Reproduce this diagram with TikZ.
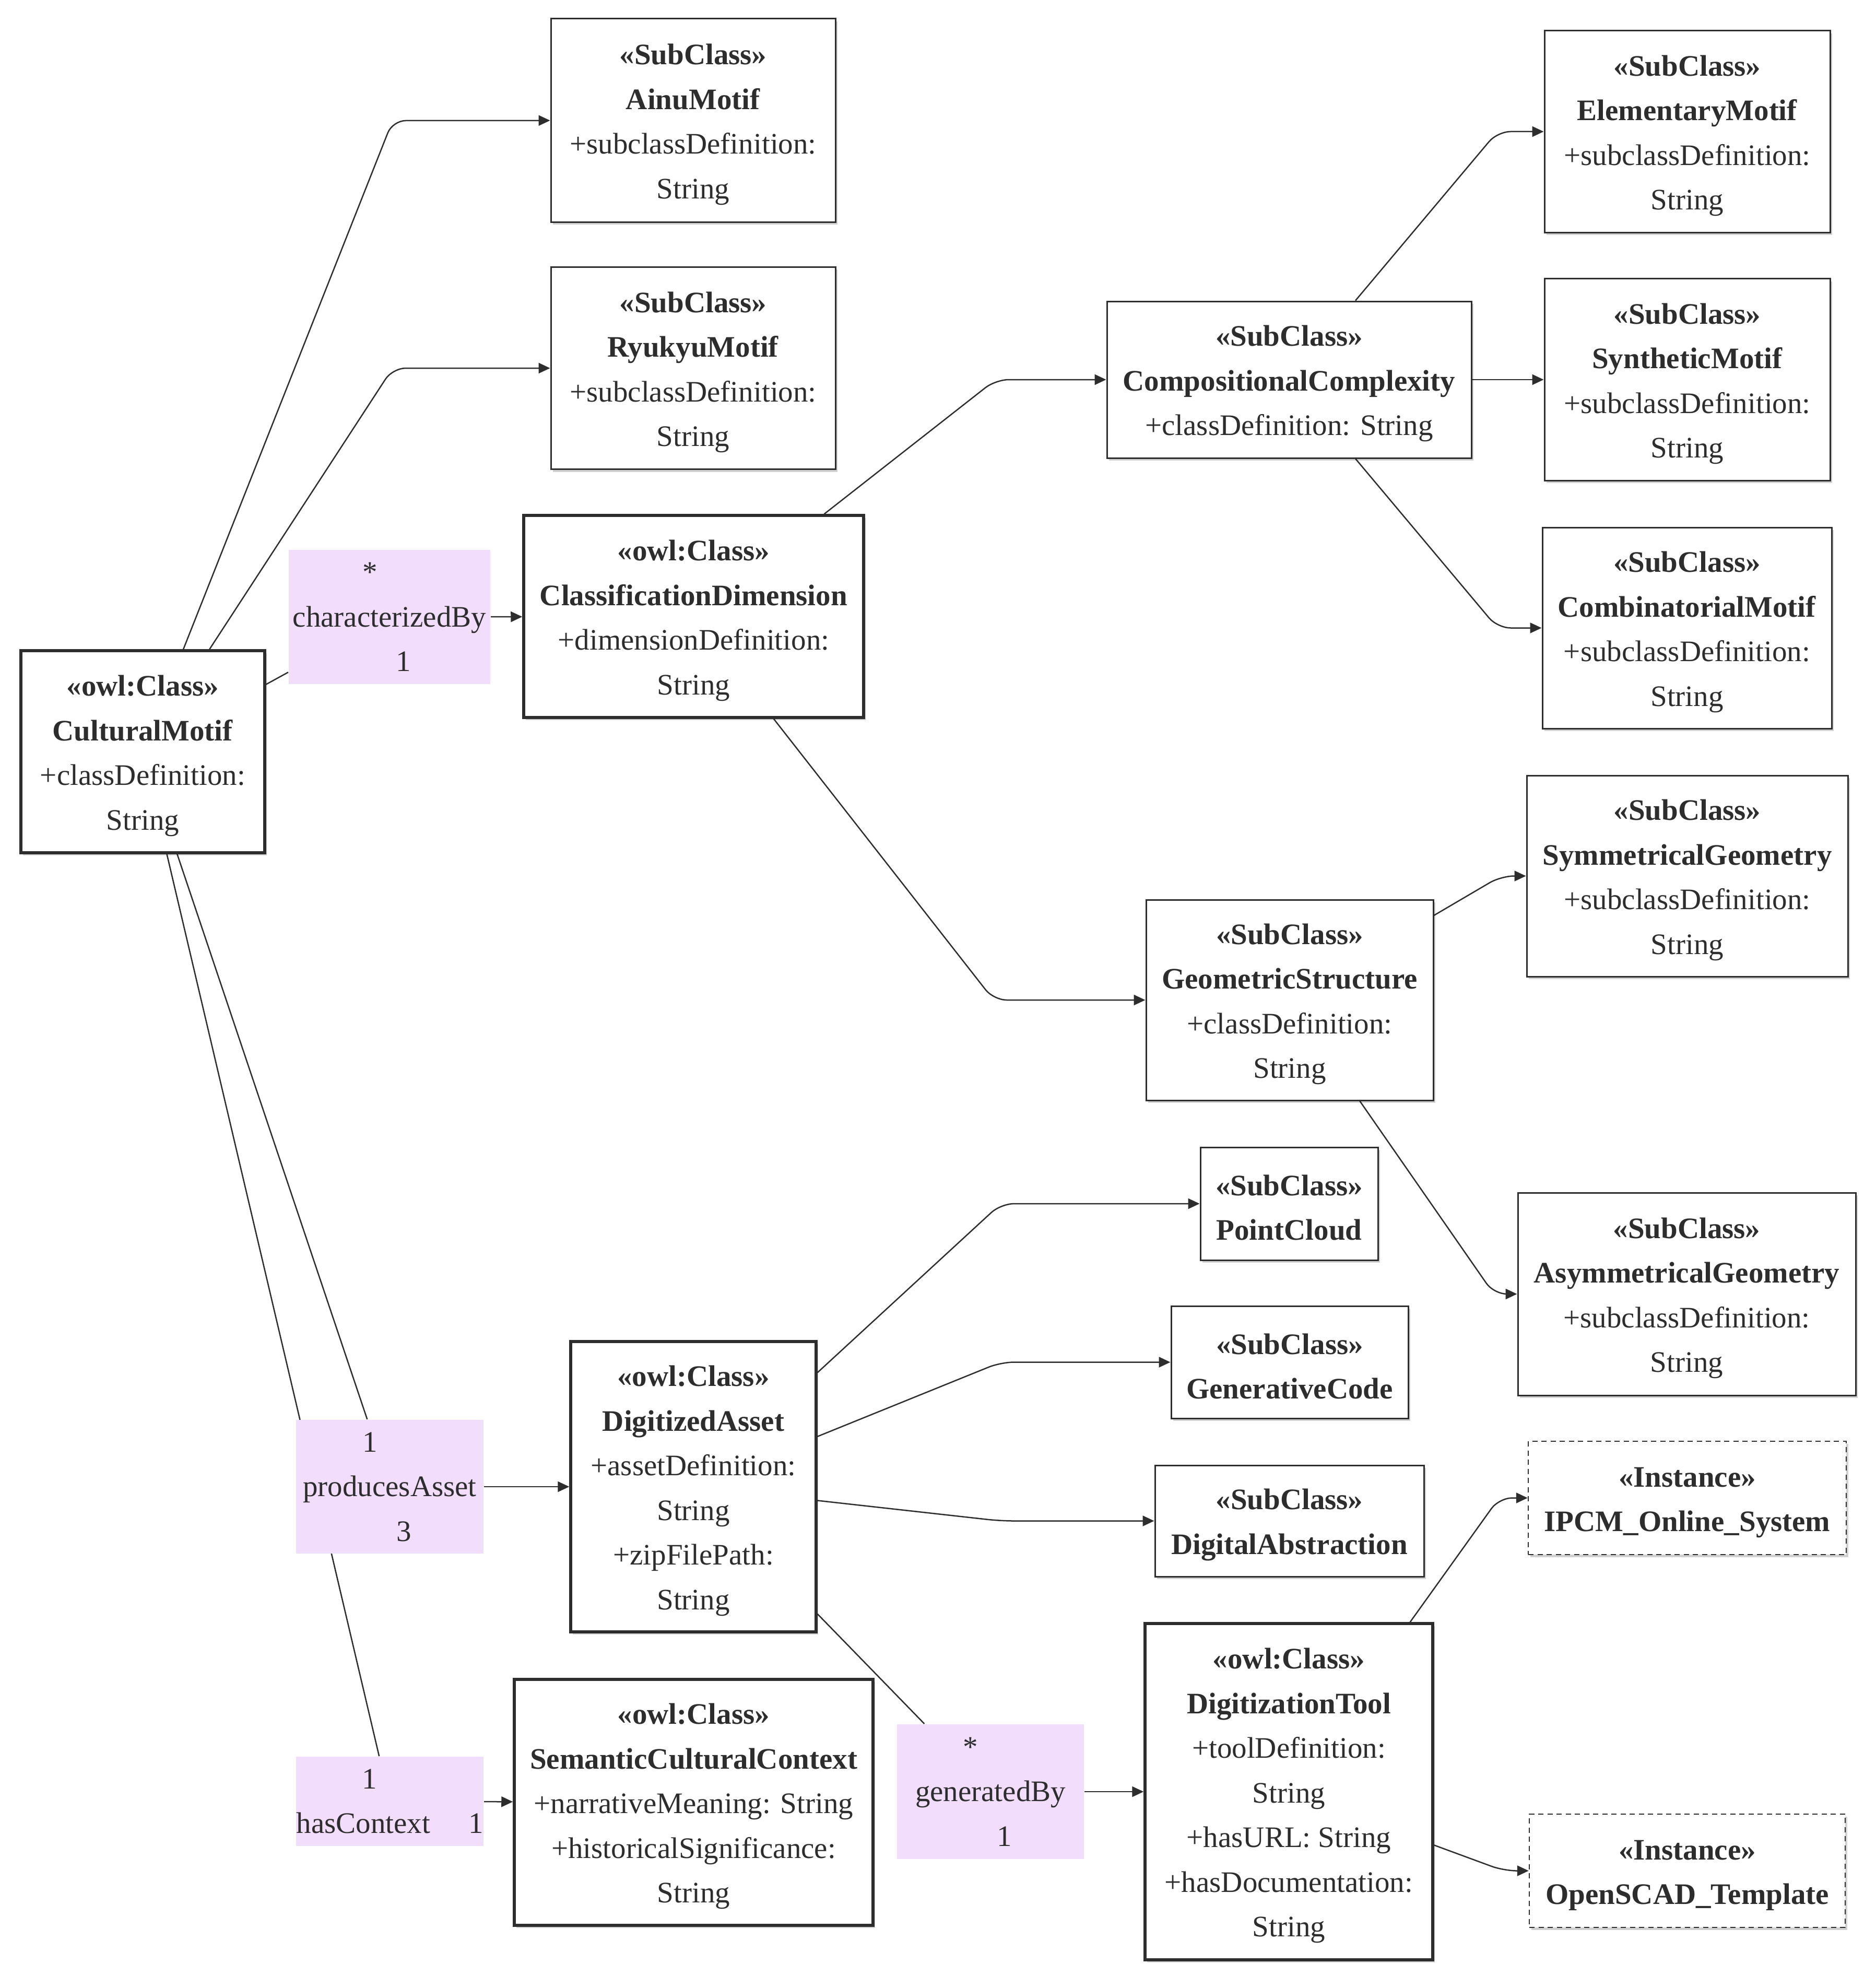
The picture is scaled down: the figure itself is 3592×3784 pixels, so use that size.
\documentclass[tikz,border=0pt]{standalone}
\usepackage{fontspec}
\setmainfont{Liberation Serif}
\usetikzlibrary{arrows.meta,shadows,backgrounds}
\definecolor{lblpink}{RGB}{242,222,252}
\definecolor{ink}{RGB}{45,45,45}
\newcommand\tstr{\rule{0pt}{11pt}}
\begin{document}
\begin{tikzpicture}[x=0.2pt,y=-0.2pt,
  base/.style={font=\fontsize{11.4}{17.1}\selectfont, text=ink, align=center, inner sep=0pt},
  subbox/.style={base, draw=ink, line width=0.6pt, fill=white,
    drop shadow={shadow xshift=0.8pt, shadow yshift=-1pt, opacity=0.18, fill=black}},
  clsbox/.style={subbox, line width=1.1pt},
  instbox/.style={subbox, dash pattern=on 2pt off 1.5pt, line width=0.5pt},
  lbl/.style={base, fill=lblpink},
  edge/.style={draw=ink, line width=0.5pt, rounded corners=5pt},
  arr/.style={edge, -{Triangle[length=4.4pt,width=4pt]}}
]
\useasboundingbox (0,0) rectangle (3592,3784);

% ---------- class boxes ----------
\node[subbox, minimum width=109pt, minimum height=77.8pt] (Ainu) at (1327.5,230.5)
  {\tstr\textbf{«SubClass»}\\\textbf{AinuMotif}\\+subclassDefinition:\\String};
\node[subbox, minimum width=109pt, minimum height=77.4pt] (Ryukyu) at (1327.5,705)
  {\tstr\textbf{«SubClass»}\\\textbf{RyukyuMotif}\\+subclassDefinition:\\String};
\node[clsbox, minimum width=130.2pt, minimum height=77.4pt] (ClassDim) at (1328.5,1180.5)
  {\tstr\textbf{«owl:Class»}\\\textbf{ClassificationDimension}\\+dimensionDefinition:\\String};
\node[clsbox, minimum width=93.4pt, minimum height=77.4pt] (CM) at (273.5,1439.5)
  {\tstr\textbf{«owl:Class»}\\\textbf{CulturalMotif}\\+classDefinition:\\String};
\node[subbox, minimum width=139.6pt, minimum height=60pt] (CC) at (2469,727)
  {\tstr\textbf{«SubClass»}\\\textbf{CompositionalComplexity}\\+classDefinition: String};
\node[subbox, minimum width=109.4pt, minimum height=77.2pt] (Elem) at (3231.5,252)
  {\tstr\textbf{«SubClass»}\\\textbf{ElementaryMotif}\\+subclassDefinition:\\String};
\node[subbox, minimum width=109.4pt, minimum height=77.2pt] (Synth) at (3231.5,727)
  {\tstr\textbf{«SubClass»}\\\textbf{SyntheticMotif}\\+subclassDefinition:\\String};
\node[subbox, minimum width=110.8pt, minimum height=77pt] (Comb) at (3231,1202.5)
  {\tstr\textbf{«SubClass»}\\\textbf{CombinatorialMotif}\\+subclassDefinition:\\String};
\node[subbox, minimum width=123pt, minimum height=77pt] (Sym) at (3231.5,1677.5)
  {\tstr\textbf{«SubClass»}\\\textbf{SymmetricalGeometry}\\+subclassDefinition:\\String};
\node[subbox, minimum width=110pt, minimum height=76.8pt] (GS) at (2470,1915)
  {\tstr\textbf{«SubClass»}\\\textbf{GeometricStructure}\\+classDefinition:\\String};
\node[subbox, minimum width=68pt, minimum height=43.2pt] (PC) at (2469,2305)
  {\tstr\textbf{«SubClass»}\\\textbf{PointCloud}};
\node[subbox, minimum width=90.8pt, minimum height=43pt] (GC) at (2470,2608.5)
  {\tstr\textbf{«SubClass»}\\\textbf{GenerativeCode}};
\node[subbox, minimum width=129.4pt, minimum height=77.6pt] (Asym) at (3230.5,2478)
  {\tstr\textbf{«SubClass»}\\\textbf{AsymmetricalGeometry}\\+subclassDefinition:\\String};
\node[clsbox, minimum width=94pt, minimum height=111.2pt] (DA) at (1328,2847)
  {\tstr\textbf{«owl:Class»}\\\textbf{DigitizedAsset}\\+assetDefinition:\\String\\+zipFilePath:\\String};
\node[subbox, minimum width=103pt, minimum height=42.6pt] (DigAbs) at (2469.5,2912.5)
  {\tstr\textbf{«SubClass»}\\\textbf{DigitalAbstraction}};
\node[instbox, minimum width=121.8pt, minimum height=43.4pt] (IPCM) at (3231.5,2868.5)
  {\tstr\textbf{«Instance»}\\\textbf{IPCM\_Online\_System}};
\node[clsbox, minimum width=137.4pt, minimum height=94.2pt] (SCC) at (1328.5,3451.5)
  {\tstr\textbf{«owl:Class»}\\\textbf{SemanticCulturalContext}\\+narrativeMeaning: String\\+historicalSignificance:\\String};
\node[clsbox, minimum width=110.2pt, minimum height=128.8pt] (DT) at (2468.5,3431)
  {\tstr\textbf{«owl:Class»}\\\textbf{DigitizationTool}\\+toolDefinition:\\String\\+hasURL: String\\+hasDocumentation:\\String};
\node[instbox, minimum width=121pt, minimum height=43.4pt] (OSCAD) at (3231.5,3582.5)
  {\tstr\textbf{«Instance»}\\\textbf{OpenSCAD\_Template}};

% ---------- edge labels ----------
\node[lbl, minimum width=77.2pt, minimum height=51.4pt] (charBy) at (746,1181.5)
  {*\hspace*{14.8pt}\\characterizedBy\\\hspace*{10.8pt}1};
\node[lbl, minimum width=71.8pt, minimum height=51.2pt] (prodA) at (746.5,2847)
  {1\hspace*{15.2pt}\\producesAsset\\\hspace*{10.8pt}3};
\node[lbl, minimum width=71.8pt, minimum height=34.2pt] (hasC) at (746.5,3449.5)
  {1\hspace*{15.4pt}\\\makebox[71.6pt]{hasContext\hfill 1}};
\node[lbl, minimum width=71.6pt, minimum height=51.6pt] (genBy) at (1897,3431)
  {*\hspace*{15.2pt}\\generatedBy\\\hspace*{10.8pt}1};

% ---------- connectors ----------
\begin{pgfonlayer}{background}
\draw[arr] (CM) -- (752,231) -- (Ainu);
\draw[arr] (CM) -- (752,705) -- (Ryukyu);
\draw[edge] (CM) -- (charBy);
\draw[arr] (charBy) -- (ClassDim);
\draw[arr] (ClassDim) -- (1907,727) -- (CC);
\draw[arr] (ClassDim) -- (1903,1915) -- (GS);
\draw[arr] (CC) -- (2868,252) -- (Elem);
\draw[arr] (CC) -- (Synth);
\draw[arr] (CC) -- (2868,1202.5) -- (Comb);
\draw[arr] (GS) -- (2875,1677.5) -- (Sym);
\draw[arr] (GS) -- (2861,2478) -- (Asym);
\draw[edge] (CM) -- (prodA);
\draw[edge] (CM) -- (hasC);
\draw[arr] (prodA) -- (DA);
\draw[arr] (hasC) -- (SCC);
\draw[arr] (DA) -- (1917,2305) -- (PC);
\draw[arr] (DA) -- (1917,2608.5) -- (GC);
\draw[arr] (DA) -- (1916,2912.5) -- (DigAbs);
\draw[edge] (DA) -- (genBy);
\draw[arr] (genBy) -- (DT);
\draw[arr] (DT) -- (2871,2868.5) -- (IPCM);
\draw[arr] (DT) -- (2880,3582.5) -- (OSCAD);
\end{pgfonlayer}
\end{tikzpicture}
\end{document}
